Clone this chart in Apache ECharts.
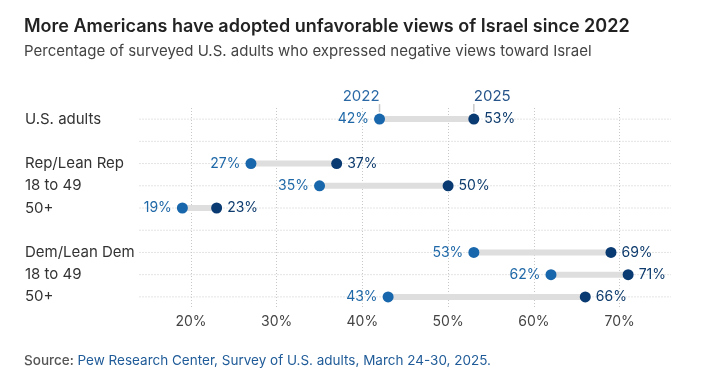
<!DOCTYPE html>
<html>
<head>
<meta charset="utf-8">
<script src="https://cdn.jsdelivr.net/npm/echarts@6/dist/echarts.min.js"></script>
<style>
html,body{margin:0;padding:0;background:#fff;}
#c{width:720px;height:376px;}
</style>
</head>
<body>
<div id="c"></div>
<script>
// ---- data ----
const categories = ['U.S. adults', '', 'Rep/Lean Rep', '18 to 49', '50+', ' ', 'Dem/Lean Dem', '18 to 49', '50+'];
const values2022 = [42, null, 27, 35, 19, null, 53, 62, 43];
const values2025 = [53, null, 37, 50, 23, null, 69, 71, 66];
const yearNames = ['2022', '2025'];
const xTicks = [20, 30, 40, 50, 60, 70];

const C22 = '#1866ab', C25 = '#0a3a72';
const L22 = '#1f68a8', L25 = '#0d3b6d';
const Y22 = '#2a69a6', Y25 = '#26548a';
const FONT = 'Inter, "Noto Sans", sans-serif';

const pts22 = [], pts25 = [], pairs = [];
values2022.forEach((v, i) => {
  if (v != null) pts22.push([v, i]);
  if (values2025[i] != null) pts25.push([values2025[i], i]);
  if (v != null && values2025[i] != null) pairs.push([v, values2025[i], i]);
});

const chart = echarts.init(document.getElementById('c'), null, {renderer: 'canvas'});
chart.setOption({
  animation: false,
  backgroundColor: '#fff',
  textStyle: {fontFamily: FONT},
  title: [
    {text: 'More Americans have adopted unfavorable views of Israel since 2022', left: 19, top: 13,
     textStyle: {fontFamily: FONT, fontSize: 18, fontWeight: 600, color: '#222'}},
    {text: 'Percentage of surveyed U.S. adults who expressed negative views toward Israel', left: 19, top: 39,
     textStyle: {fontFamily: FONT, fontSize: 15, fontWeight: 400, color: '#444'}},
    {text: '{a|Source:} {b|Pew Research Center, Survey of U.S. adults, March 24-30, 2025.}', left: 19, top: 349,
     textStyle: {fontFamily: FONT, fontSize: 13.5, fontWeight: 400, rich: {
       a: {fontFamily: FONT, fontSize: 13.5, color: '#555', fontWeight: 500},
       b: {fontFamily: FONT, fontSize: 13.5, color: '#1f5b98', fontWeight: 400}}}}
  ],
  grid: {left: 139.5, right: 49, top: 108, bottom: 68, containLabel: false},
  xAxis: {
    type: 'value', min: 14, max: 76,
    axisLine: {show: false},
    axisTick: {show: false, customValues: xTicks},
    axisLabel: {customValues: xTicks, formatter: v => v + '%', color: '#444', fontSize: 14, fontFamily: FONT, margin: 7},
    splitLine: {show: true, lineStyle: {color: '#c8c8c8', type: [1, 2], width: 1}}
  },
  yAxis: {
    type: 'category', data: categories, inverse: true,
    axisLine: {show: false}, axisTick: {show: false},
    axisLabel: {color: '#333', fontSize: 15, fontFamily: FONT, align: 'left', margin: 114.5},
    splitLine: {show: false}
  },
  series: [
    {
      type: 'custom', name: 'rows', z: 1, silent: true,
      data: categories.map((c, i) => [i]),
      encode: {y: 0},
      renderItem: (params, api) => {
        const cs = params.coordSys;
        const y = api.coord([14, api.value(0)])[1];
        return {type: 'line', shape: {x1: cs.x, y1: y, x2: cs.x + cs.width, y2: y},
          style: {stroke: '#c8c8c8', lineWidth: 1, lineDash: [1, 2]}};
      }
    },
    {
      type: 'custom', name: 'connector', z: 2, silent: true,
      data: pairs,
      encode: {x: [0, 1], y: 2},
      renderItem: (params, api) => {
        const a = api.coord([api.value(0), api.value(2)]);
        const b = api.coord([api.value(1), api.value(2)]);
        return {type: 'line', shape: {x1: a[0], y1: a[1], x2: b[0], y2: b[1]},
          style: {stroke: '#dedede', lineWidth: 6}};
      }
    },
    {
      type: 'custom', name: 'years', z: 2, silent: true,
      data: [[values2022[0], 0, 0], [values2025[0], 0, 1]],
      encode: {x: 0, y: 1},
      renderItem: (params, api) => {
        const p = api.coord([api.value(0), api.value(1)]);
        const k = api.value(2);
        return {type: 'group', children: [
          {type: 'line', shape: {x1: p[0], y1: p[1] - 15, x2: p[0], y2: p[1] - 7},
           style: {stroke: '#c8c8c8', lineWidth: 1.5}},
          {type: 'text', x: p[0], y: p[1] - 23,
           style: {text: yearNames[k], fill: k === 0 ? Y22 : Y25, font: '15px ' + FONT,
             align: k === 0 ? 'right' : 'left', verticalAlign: 'middle'}}
        ]};
      }
    },
    {
      type: 'scatter', name: '2022', z: 3, symbolSize: 11,
      data: pts22,
      itemStyle: {color: C22, opacity: 1},
      label: {show: true, position: 'left', distance: 5, formatter: p => p.value[0] + '%',
        color: L22, fontSize: 14, fontFamily: FONT}
    },
    {
      type: 'scatter', name: '2025', z: 3, symbolSize: 11,
      data: pts25,
      itemStyle: {color: C25, opacity: 1},
      label: {show: true, position: 'right', distance: 5, formatter: p => p.value[0] + '%',
        color: L25, fontSize: 14, fontFamily: FONT}
    }
  ]
});
</script>
</body>
</html>
